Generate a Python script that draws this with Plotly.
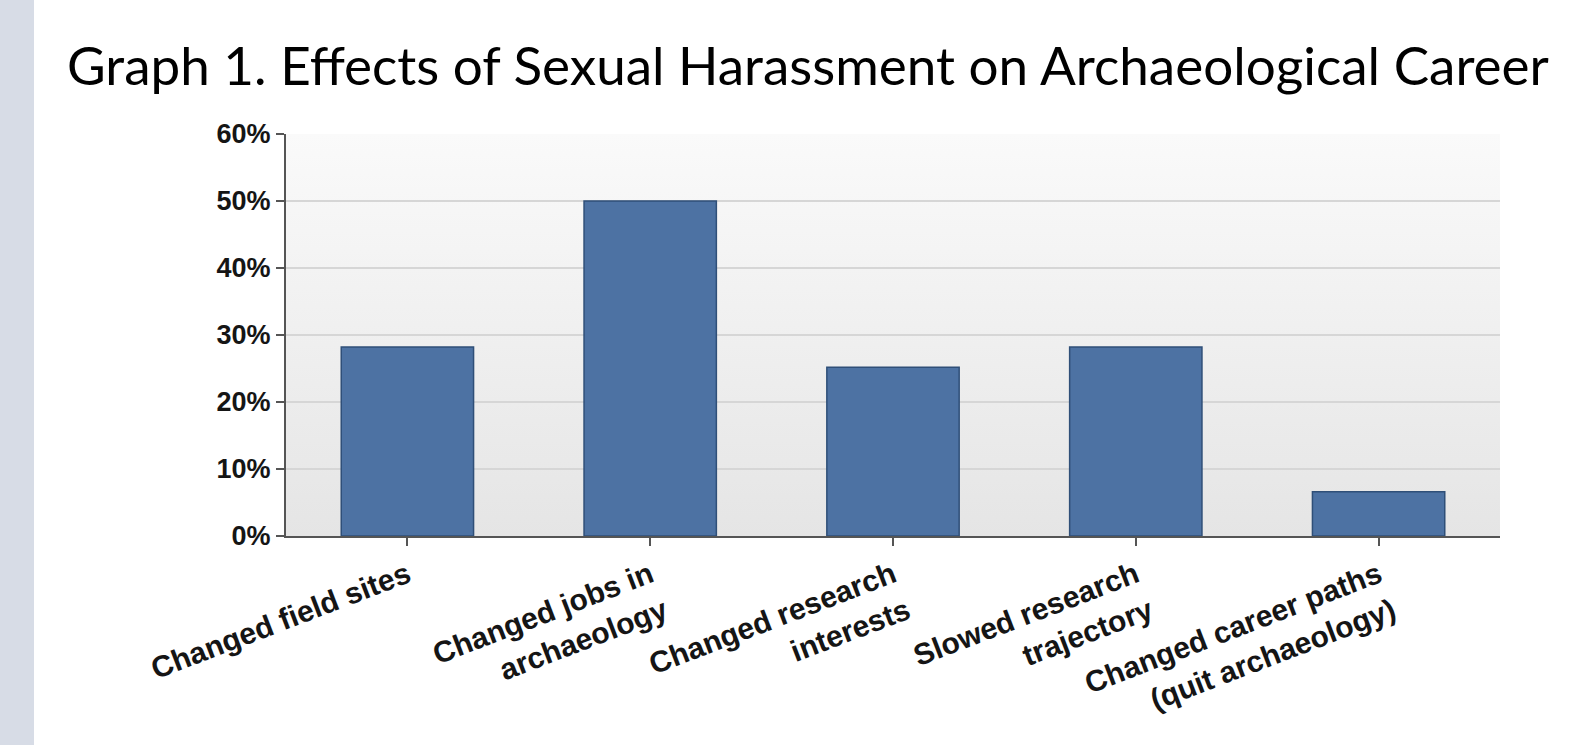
import base64
import plotly.graph_objects as go

categories = [
    "Changed field sites",
    "Changed jobs in<br>archaeology",
    "Changed research<br>interests",
    "Slowed research<br>trajectory",
    "Changed career paths<br>(quit archaeology)",
]
values = [28.2, 50.0, 25.2, 28.2, 6.6]
y_ticks = [0, 10, 20, 30, 40, 50, 60]
y_tick_labels = [f"{v}%" for v in y_ticks]
title_text = "Graph 1. Effects of Sexual Harassment on Archaeological Career"

W, H = 1571, 745
ML, MR, MT, MB = 286, 71, 134, 209

svg = (
    '<svg xmlns="http://www.w3.org/2000/svg" width="100" height="100" preserveAspectRatio="none">'
    '<defs><linearGradient id="g" x1="0" y1="0" x2="0" y2="1">'
    '<stop offset="0" stop-color="#fafafa"/><stop offset="1" stop-color="#e5e5e5"/>'
    '</linearGradient></defs><rect width="100" height="100" fill="url(#g)"/></svg>'
)
bg_uri = "data:image/svg+xml;base64," + base64.b64encode(svg.encode()).decode()

x_idx = list(range(len(categories)))

fig = go.Figure()
fig.add_trace(go.Bar(
    x=x_idx,
    y=values,
    marker=dict(color="#4d72a3", line=dict(color="#2f4f78", width=1.5)),
    width=0.545,
    hoverinfo="skip",
))

pw = W - ML - MR
ph = H - MT - MB
fig.update_layout(
    width=W, height=H,
    margin=dict(l=ML, r=MR, t=MT, b=MB, autoexpand=False),
    paper_bgcolor="white",
    plot_bgcolor="rgba(0,0,0,0)",
    showlegend=False,
    title=dict(
        text=title_text,
        x=67 / W, xref="container", xanchor="left",
        y=1 - 66 / H, yref="container", yanchor="middle",
        font=dict(family="Lato", size=53, color="#000000"),
    ),
    images=[dict(
        source=bg_uri, xref="paper", yref="paper", x=0, y=1,
        sizex=1, sizey=1, sizing="stretch", layer="below",
        xanchor="left", yanchor="top",
    )],
    shapes=[dict(
        type="rect", xref="paper", yref="paper",
        x0=-ML / pw, x1=(34 - ML) / pw, y0=-MB / ph, y1=1 + MT / ph,
        fillcolor="#d7dce6", line=dict(width=0), layer="below",
    )],
    xaxis=dict(
        range=[-0.5, len(categories) - 0.5],
        tickmode="array", tickvals=x_idx, ticktext=categories,
        tickangle=-21,
        ticks="outside", ticklen=8, tickwidth=1.5, tickcolor="#555555",
        showline=True, linecolor="#555555", linewidth=2,
        showgrid=False, zeroline=False,
        tickfont=dict(family="Liberation Sans", size=30, color="#151515", weight="bold"),
    ),
    yaxis=dict(
        range=[0, 60],
        tickmode="array", tickvals=y_ticks, ticktext=y_tick_labels,
        ticks="outside", ticklen=8, tickwidth=1.5, tickcolor="#555555",
        showline=True, linecolor="#555555", linewidth=2,
        showgrid=True, gridcolor="#d6d6d6", gridwidth=2,
        zeroline=False,
        tickfont=dict(family="Liberation Sans", size=27, color="#151515", weight="bold"),
    ),
)

fig.write_html(
    "out.html",
    config={"displayModeBar": False},
    post_script="document.body.style.margin='0';",
)
